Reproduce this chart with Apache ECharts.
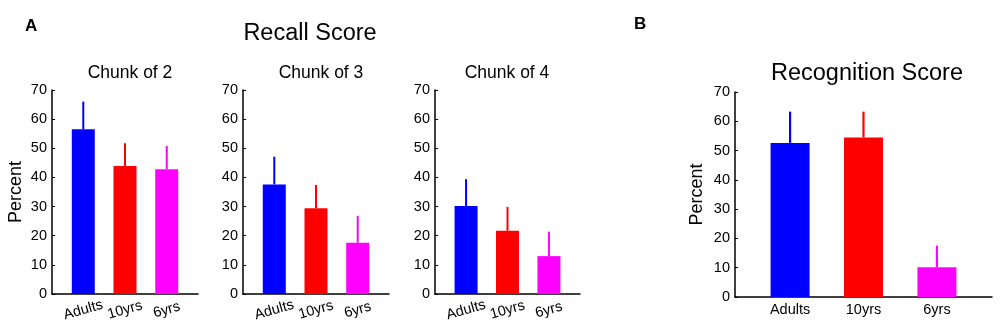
<!DOCTYPE html>
<html>
<head>
<meta charset="utf-8">
<script src="https://cdn.jsdelivr.net/npm/echarts@6/dist/echarts.min.js"></script>
<style>
  html, body { margin: 0; padding: 0; background: #fff; }
  #chart { width: 1000px; height: 334px; }
</style>
</head>
<body>
<div id="chart"></div>
<script>
// groups on the x axis
var categories = ["Adults", "10yrs", "6yrs"];
var barColors = ["#0000ff", "#ff0000", "#ff00ff"];

// recall score (percent) and upper error (SD) for each chunk size
var chunk2Mean = [56.5, 43.9, 42.8];
var chunk2Err = [9.5, 7.8, 8.0];
var chunk3Mean = [37.6, 29.4, 17.6];
var chunk3Err = [9.5, 8.0, 9.2];
var chunk4Mean = [30.2, 21.7, 13.0];
var chunk4Err = [9.2, 8.2, 8.4];

// recognition score
var recogMean = [52.6, 54.5, 10.2];
var recogErr = [10.7, 8.8, 7.3];

var yTicks = [0, 10, 20, 30, 40, 50, 60, 70];

var font = "'Liberation Sans', Arial, sans-serif";

var myChart = echarts.init(document.getElementById("chart"));

var grids = [
  { left: 52, top: 90, width: 146, height: 204 },
  { left: 243, top: 90, width: 146, height: 204 },
  { left: 435, top: 90, width: 145, height: 204 },
  { left: 735, top: 92, width: 257, height: 205 },
];

function makeXAxis(idx, rotated) {
  return {
    type: "value",
    gridIndex: idx,
    min: 0.25,
    max: 3.75,
    splitLine: { show: false },
    axisTick: { show: false },
    axisLine: { lineStyle: { color: "#000", width: 1.5 } },
    axisLabel: {
      customValues: [1, 2, 3],
      formatter: function (v) {
        return categories[Math.round(v) - 1];
      },
      color: "#000",
      fontSize: 14.5,
      fontFamily: font,
      rotate: rotated ? 16 : 0,
      align: "center",
      verticalAlign: rotated ? "middle" : "top",
      margin: rotated ? 16 : 5,
    },
  };
}

function makeYAxis(idx, nameGap) {
  return {
    type: "value",
    gridIndex: idx,
    min: yTicks[0],
    max: yTicks[yTicks.length - 1],
    interval: 10,
    name: nameGap ? "Percent" : "",
    nameLocation: "middle",
    nameRotate: 90,
    nameGap: nameGap || 0,
    nameTextStyle: { color: "#000", fontSize: 18, fontFamily: font },
    splitLine: { show: false },
    axisLine: { show: true, lineStyle: { color: "#000", width: 1.5 } },
    axisTick: { show: true, inside: true, length: 3, lineStyle: { color: "#000" } },
    axisLabel: { color: "#000", fontSize: 14.5, fontFamily: font, margin: 5 },
  };
}

function barSeries(idx, means, width) {
  return {
    type: "bar",
    xAxisIndex: idx,
    yAxisIndex: idx,
    barWidth: width,
    data: means.map(function (v, i) {
      return { value: [i + 1, v], itemStyle: { color: barColors[i] } };
    }),
    silent: true,
  };
}

function errSeries(idx, means, errs, lw) {
  return {
    type: "custom",
    xAxisIndex: idx,
    yAxisIndex: idx,
    data: means.map(function (v, i) {
      return [i + 1, v, v + errs[i], i];
    }),
    renderItem: function (params, api) {
      var p0 = api.coord([api.value(0), api.value(1)]);
      var p1 = api.coord([api.value(0), api.value(2)]);
      return {
        type: "line",
        shape: { x1: p0[0], y1: p0[1], x2: p1[0], y2: p1[1] },
        style: { stroke: barColors[api.value(3)], lineWidth: lw },
      };
    },
    silent: true,
    z: 3,
  };
}

var option = {
  backgroundColor: "#fff",
  animation: false,
  title: [
    { text: "A", left: 20, top: 13, textStyle: { fontSize: 17, fontWeight: "bold", color: "#000", fontFamily: font } },
    { text: "B", left: 629, top: 11, textStyle: { fontSize: 17, fontWeight: "bold", color: "#000", fontFamily: font } },
    { text: "Recall Score", left: 305, top: 17, textAlign: "center", textStyle: { fontSize: 23.5, fontWeight: "normal", color: "#000", fontFamily: font } },
    { text: "Chunk of 2", left: 125, top: 59, textAlign: "center", textStyle: { fontSize: 17.5, fontWeight: "normal", color: "#000", fontFamily: font } },
    { text: "Chunk of 3", left: 316, top: 59, textAlign: "center", textStyle: { fontSize: 17.5, fontWeight: "normal", color: "#000", fontFamily: font } },
    { text: "Chunk of 4", left: 502, top: 59, textAlign: "center", textStyle: { fontSize: 17.5, fontWeight: "normal", color: "#000", fontFamily: font } },
    { text: "Recognition Score", left: 862, top: 57, textAlign: "center", textStyle: { fontSize: 23.5, fontWeight: "normal", color: "#000", fontFamily: font } },
  ],
  grid: grids,
  xAxis: [makeXAxis(0, true), makeXAxis(1, true), makeXAxis(2, true), makeXAxis(3, false)],
  yAxis: [makeYAxis(0, 27), makeYAxis(1, 0), makeYAxis(2, 0), makeYAxis(3, 29)],
  series: [
    barSeries(0, chunk2Mean, 23),
    errSeries(0, chunk2Mean, chunk2Err, 2),
    barSeries(1, chunk3Mean, 23),
    errSeries(1, chunk3Mean, chunk3Err, 2),
    barSeries(2, chunk4Mean, 23),
    errSeries(2, chunk4Mean, chunk4Err, 2),
    barSeries(3, recogMean, 39),
    errSeries(3, recogMean, recogErr, 2.2),
  ],
};
myChart.setOption(option);
</script>
</body>
</html>
